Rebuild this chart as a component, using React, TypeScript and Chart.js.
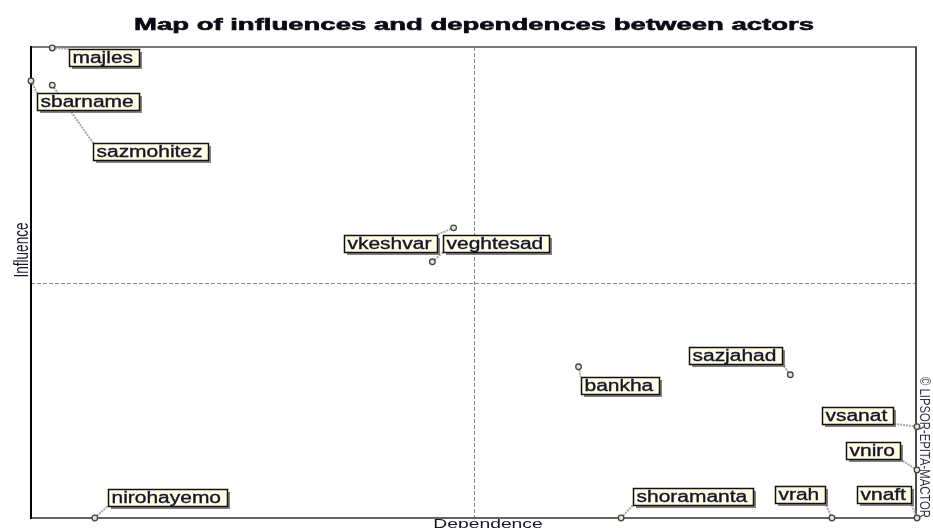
import React, { useEffect, useRef } from "react";
import { Chart, registerables } from "chart.js";

Chart.register(...registerables);

const actors = [
  "majles",
  "sbarname",
  "sazmohitez",
  "vkeshvar",
  "veghtesad",
  "bankha",
  "sazjahad",
  "vsanat",
  "vniro",
  "vnaft",
  "vrah",
  "shoramanta",
  "nirohayemo",
];
const dependence = [2.4, 0, 2.4, 47.7, 45.3, 61.8, 85.7, 100, 100, 100, 90.4, 66.6, 7.2];
const influence = [99.8, 92.8, 91.9, 61.6, 54.4, 32.1, 30.4, 19.4, 10.2, 0, 0, 0, 0];

const titleText = "Map of influences and dependences between actors";
const xTitle = "Dependence";
const yTitle = "Influence";
const credit = "\u00A9 LIPSOR-EPITA-MACTOR";

// label box placement relative to each point (layout only)
const labelLayout = [
  { side: "left", dx: 17, dy: 1 },
  { side: "left", dx: 6, dy: 12 },
  { side: "left", dx: 41, dy: 58 },
  { side: "right", dx: -17, dy: 7 },
  { side: "left", dx: 11, dy: -27 },
  { side: "left", dx: 2, dy: 10 },
  { side: "right", dx: -8, dy: -28 },
  { side: "right", dx: -24, dy: -20 },
  { side: "right", dx: -17, dy: -28 },
  { side: "right", dx: -6, dy: -32 },
  { side: "right", dx: -7, dy: -32 },
  { side: "left", dx: 12, dy: -30 },
  { side: "left", dx: 13, dy: -29 },
];

const LABEL_FONT = '16px "Liberation Sans", Arial, sans-serif';
const LABEL_SX = 1.31;
const BOX_H = 17;

function boxFor(ctx: CanvasRenderingContext2D, i: number, px: number, py: number) {
  ctx.font = LABEL_FONT;
  const tw = ctx.measureText(actors[i]).width * LABEL_SX;
  const w = tw + 9;
  const l = labelLayout[i];
  const left = l.side === "left" ? px + l.dx : px + l.dx - w;
  const top = py + l.dy;
  return { left, top, w, h: BOX_H };
}

const mapPlugin = {
  id: "mapPlugin",
  beforeDatasetsDraw(chart: any) {
    const ctx: CanvasRenderingContext2D = chart.ctx;
    const { left, right, top, bottom } = chart.chartArea;
    const xs = chart.scales.x;
    const ys = chart.scales.y;
    ctx.save();
    // dashed mid lines
    ctx.strokeStyle = "#8a8a8a";
    ctx.lineWidth = 1;
    ctx.setLineDash([4, 2]);
    const mx = Math.round(xs.getPixelForValue(50)) + 0.5;
    const my = Math.round(ys.getPixelForValue(50)) + 0.5;
    ctx.beginPath();
    ctx.moveTo(mx, top);
    ctx.lineTo(mx, bottom);
    ctx.moveTo(left, my);
    ctx.lineTo(right, my);
    ctx.stroke();
    ctx.setLineDash([]);
    // frame
    ctx.lineWidth = 2;
    ctx.strokeStyle = "#7a7a7a";
    ctx.beginPath();
    ctx.moveTo(left, top);
    ctx.lineTo(right, top);
    ctx.stroke();
    ctx.strokeStyle = "#4a4a4a";
    ctx.beginPath();
    ctx.moveTo(right - 1, top);
    ctx.lineTo(right - 1, bottom);
    ctx.stroke();
    ctx.strokeStyle = "#303030";
    ctx.lineWidth = 1.5;
    ctx.beginPath();
    ctx.moveTo(left, bottom);
    ctx.lineTo(right, bottom);
    ctx.stroke();
    ctx.strokeStyle = "#000";
    ctx.lineWidth = 2;
    ctx.beginPath();
    ctx.moveTo(left, top - 1);
    ctx.lineTo(left, bottom + 1);
    ctx.stroke();
    // leader lines
    ctx.strokeStyle = "#a8a8a8";
    ctx.lineWidth = 2;
    ctx.setLineDash([2, 1]);
    const meta = chart.getDatasetMeta(0);
    meta.data.forEach((pt: any, i: number) => {
      const b = boxFor(ctx, i, pt.x, pt.y);
      const cx = Math.min(Math.max(pt.x, b.left), b.left + b.w);
      const cy = Math.min(Math.max(pt.y, b.top), b.top + b.h);
      ctx.beginPath();
      ctx.moveTo(pt.x, pt.y);
      ctx.lineTo(cx, cy);
      ctx.stroke();
    });
    ctx.restore();
  },
  afterDatasetsDraw(chart: any) {
    const ctx: CanvasRenderingContext2D = chart.ctx;
    const { left, right, top, bottom } = chart.chartArea;
    const meta = chart.getDatasetMeta(0);
    ctx.save();
    meta.data.forEach((pt: any, i: number) => {
      const b = boxFor(ctx, i, pt.x, pt.y);
      const bl = Math.round(b.left) + 0.5;
      const bt = Math.round(b.top) + 0.5;
      const bw = Math.round(b.w);
      // shadow
      ctx.fillStyle = "rgba(90,90,90,0.75)";
      ctx.fillRect(bl + 2.5, bt + 2.5, bw, b.h);
      ctx.fillStyle = "#fffde6";
      ctx.fillRect(bl, bt, bw, b.h);
      ctx.strokeStyle = "#111";
      ctx.lineWidth = 1.5;
      ctx.strokeRect(bl, bt, bw, b.h);
      ctx.fillStyle = "#14142a";
      ctx.strokeStyle = "#14142a";
      ctx.lineWidth = 0.35;
      ctx.font = LABEL_FONT;
      ctx.textBaseline = "alphabetic";
      ctx.textAlign = "left";
      ctx.save();
      ctx.translate(bl + 3, bt + 13.5);
      ctx.scale(LABEL_SX, 1);
      ctx.fillText(actors[i], 0, 0);
      ctx.strokeText(actors[i], 0, 0);
      ctx.restore();
    });
    // title
    ctx.fillStyle = "#0a0a14";
    ctx.strokeStyle = "#0a0a14";
    ctx.lineWidth = 0.6;
    ctx.font = 'bold 17px "Liberation Sans", Arial, sans-serif';
    ctx.textAlign = "left";
    ctx.textBaseline = "alphabetic";
    const tw = ctx.measureText(titleText).width;
    const tsx = 680 / tw;
    ctx.save();
    ctx.translate((left + right) / 2 - 340, 30);
    ctx.scale(tsx, 1);
    ctx.fillText(titleText, 0, 0);
    ctx.strokeText(titleText, 0, 0);
    ctx.restore();
    // x axis title
    ctx.font = '13.5px "Liberation Sans", Arial, sans-serif';
    ctx.fillStyle = "#14142a";
    const xw = ctx.measureText(xTitle).width * 1.43;
    ctx.save();
    ctx.translate(488 - xw / 2, bottom + 9.5);
    ctx.scale(1.43, 1);
    ctx.fillText(xTitle, 0, 0);
    ctx.restore();
    // y axis title
    const yw = ctx.measureText(yTitle).width;
    ctx.save();
    ctx.translate(left - 3, 250 + yw / 2);
    ctx.rotate(-Math.PI / 2);
    ctx.scale(1, 1.43);
    ctx.fillText(yTitle, 0, 0);
    ctx.restore();
    // credit
    ctx.font = '11.3px "Liberation Sans", Arial, sans-serif';
    ctx.fillStyle = "#303048";
    ctx.save();
    ctx.translate(right + 3, 377);
    ctx.rotate(Math.PI / 2);
    ctx.scale(1, 1.25);
    ctx.fillText(credit, 0, 0);
    ctx.restore();
    ctx.restore();
  },
};

export default function App() {
  const ref = useRef<HTMLCanvasElement | null>(null);
  useEffect(() => {
    if (!ref.current) return;
    const chart = new Chart(ref.current, {
      type: "scatter",
      data: {
        datasets: [
          {
            label: "actors",
            data: dependence.map((d, i) => ({ x: d, y: influence[i] })),
            pointRadius: 2.8,
            pointBackgroundColor: "#e4e4d0",
            pointBorderColor: "#454545",
            pointBorderWidth: 1.3,
            clip: false as any,
          },
        ],
      },
      options: {
        responsive: false,
        animation: false,
        layout: { padding: { left: 31, right: 16, top: 47, bottom: 10 } },
        scales: {
          x: { type: "linear", min: 0, max: 100, display: false },
          y: { type: "linear", min: 0, max: 100, display: false },
        },
        plugins: {
          legend: { display: false },
          tooltip: { enabled: false },
        },
      },
      plugins: [mapPlugin],
    });
    return () => chart.destroy();
  }, []);
  return (
    <div style={{ position: "absolute", left: 0, top: 0, width: 933, height: 528, background: "#fff" }}>
      <canvas ref={ref} width={933} height={528} style={{ display: "block" }} />
    </div>
  );
}
